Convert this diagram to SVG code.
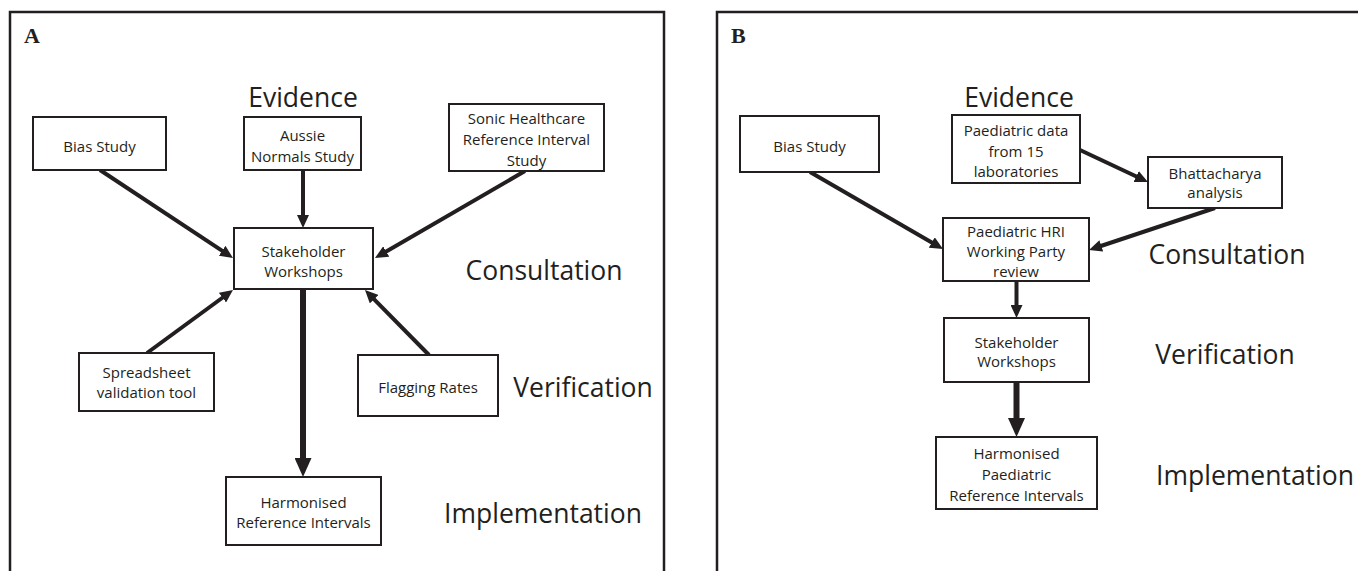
<svg xmlns="http://www.w3.org/2000/svg" width="1358" height="571" viewBox="0 0 1358 571">
<style>
.frame{fill:none;stroke:#231f20;stroke-width:2.5}
.box{fill:#fff;stroke:#231f20;stroke-width:2}
.t{font-family:"Open Sans","Liberation Sans",sans-serif;font-size:15px;fill:#231f20;text-anchor:middle}
.big{font-family:"Open Sans","Liberation Sans",sans-serif;font-size:26.5px;fill:#231f20;text-anchor:middle}
.lab{font-family:"Liberation Serif","Times New Roman",serif;font-size:22px;font-weight:bold;fill:#231f20}
.c{fill:none;stroke:#231f20;stroke-width:4;marker-end:url(#ah)}
.cb{fill:none;stroke:#231f20;stroke-width:6;marker-end:url(#ahb)}
</style>
<defs>
<marker id="ah" viewBox="0 0 13 12" markerWidth="13" markerHeight="12" refX="2" refY="6" orient="auto" markerUnits="userSpaceOnUse"><path d="M0,0 L13,6 L0,12 z" fill="#231f20"/></marker>
<marker id="ahb" viewBox="0 0 19 17" markerWidth="19" markerHeight="17" refX="2" refY="8.5" orient="auto" markerUnits="userSpaceOnUse"><path d="M0,0 L19,8.5 L0,17 z" fill="#231f20"/></marker>
</defs>
<rect width="1358" height="571" fill="#fff"/>

<g id="panelA">
<rect class="frame" x="10" y="12" width="654" height="575"/>
<text class="lab" x="24" y="43">A</text>
<text class="big" x="303" y="107">Evidence</text>
<text class="big" x="544" y="280">Consultation</text>
<text class="big" x="583" y="397">Verification</text>
<text class="big" x="543" y="523">Implementation</text>
</g>

<g id="panelB">
<rect class="frame" x="717" y="12" width="660" height="575"/>
<text class="lab" x="731" y="43">B</text>
<text class="big" x="1019" y="107">Evidence</text>
<text class="big" x="1227" y="264">Consultation</text>
<text class="big" x="1225" y="364">Verification</text>
<text class="big" x="1255" y="485">Implementation</text>
</g>

<g id="connectors">
<path class="c" d="M100,170 L223.8,251.9"/>
<path class="c" d="M303,170 L303,217"/>
<path class="c" d="M525,171 L384.5,252.5"/>
<path class="c" d="M147,353 L224.1,296.5"/>
<path class="c" d="M429,355 L372.7,297.8"/>
<path class="cb" d="M303,289 L303,460"/>
<path class="c" d="M810,172 L933.5,243.5"/>
<path class="c" d="M1080,150 L1138,177.3"/>
<path class="c" d="M1215,208 L1099.4,246.5"/>
<path class="c" d="M1016.5,281 L1016.5,307"/>
<path class="cb" d="M1016.5,382 L1016.5,420"/>
</g>

<g id="a-bias">
<rect class="box" x="33" y="117" width="133" height="53"/>
<text class="t" x="99.5" y="152">Bias Study</text>
</g>
<g id="a-aussie">
<rect class="box" x="244" y="117" width="117" height="53"/>
<text class="t" x="302.5" y="141">Aussie</text>
<text class="t" x="302.5" y="162">Normals Study</text>
</g>
<g id="a-sonic">
<rect class="box" x="449" y="104" width="155" height="67"/>
<text class="t" x="526.5" y="124">Sonic Healthcare</text>
<text class="t" x="526.5" y="145">Reference Interval</text>
<text class="t" x="526.5" y="166">Study</text>
</g>
<g id="a-stakeholder">
<rect class="box" x="234" y="228" width="139" height="61"/>
<text class="t" x="303.5" y="257">Stakeholder</text>
<text class="t" x="303.5" y="277">Workshops</text>
</g>
<g id="a-spreadsheet">
<rect class="box" x="79" y="353" width="135" height="58"/>
<text class="t" x="146.5" y="378">Spreadsheet</text>
<text class="t" x="146.5" y="398">validation tool</text>
</g>
<g id="a-flagging">
<rect class="box" x="358" y="355" width="140" height="61"/>
<text class="t" x="428" y="393">Flagging Rates</text>
</g>
<g id="a-harmonised">
<rect class="box" x="226" y="477" width="155" height="68"/>
<text class="t" x="303.5" y="508">Harmonised</text>
<text class="t" x="303.5" y="528">Reference Intervals</text>
</g>

<g id="b-bias">
<rect class="box" x="740" y="116" width="139" height="56"/>
<text class="t" x="809.5" y="152">Bias Study</text>
</g>
<g id="b-paeddata">
<rect class="box" x="952" y="115" width="128" height="68"/>
<text class="t" x="1016" y="136">Paediatric data</text>
<text class="t" x="1016" y="156.5">from 15</text>
<text class="t" x="1016" y="177">laboratories</text>
</g>
<g id="b-bhattacharya">
<rect class="box" x="1148" y="157" width="134" height="51"/>
<text class="t" x="1215" y="179">Bhattacharya</text>
<text class="t" x="1215" y="198">analysis</text>
</g>
<g id="b-hri">
<rect class="box" x="943" y="218" width="146" height="63"/>
<text class="t" x="1016" y="237">Paediatric HRI</text>
<text class="t" x="1016" y="257">Working Party</text>
<text class="t" x="1016" y="277">review</text>
</g>
<g id="b-stakeholder">
<rect class="box" x="944" y="318" width="145" height="64"/>
<text class="t" x="1016.5" y="348">Stakeholder</text>
<text class="t" x="1016.5" y="367">Workshops</text>
</g>
<g id="b-harmonised">
<rect class="box" x="936" y="437" width="161" height="72"/>
<text class="t" x="1016.5" y="459">Harmonised</text>
<text class="t" x="1016.5" y="480">Paediatric</text>
<text class="t" x="1016.5" y="501">Reference Intervals</text>
</g>
</svg>
